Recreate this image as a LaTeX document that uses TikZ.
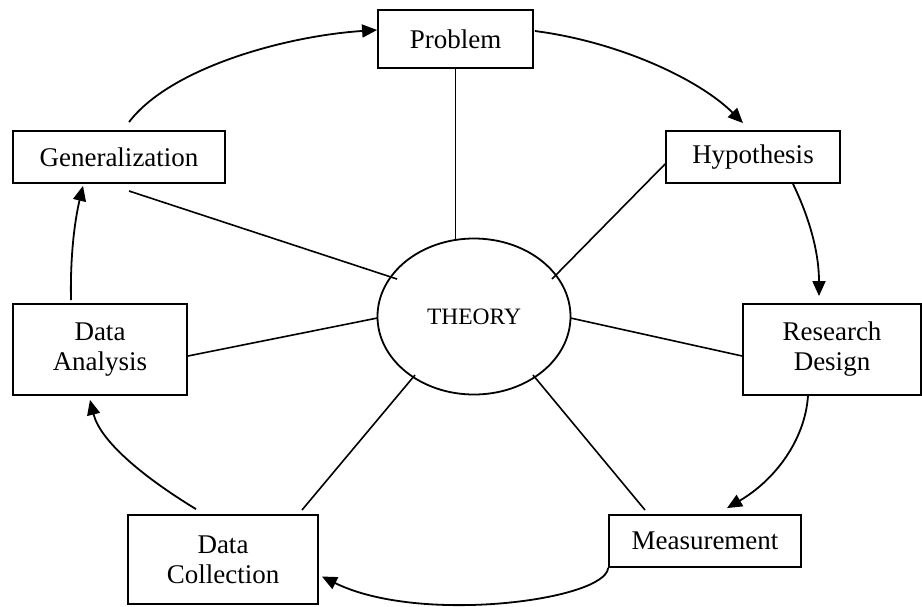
\documentclass[tikz,border=0pt]{standalone}
\usepackage{fontspec}
\setmainfont{Liberation Serif}
\usetikzlibrary{arrows.meta,shapes.geometric,calc}
\begin{document}
\begin{tikzpicture}[x=1pt,y=-1pt,
  box/.style={draw,line width=1.8pt,rectangle,inner sep=0pt,align=center,font=\fontsize{27}{30}\selectfont},
  spoke/.style={line width=1.6pt},
  flow/.style={line width=1.8pt,-{Triangle[length=15pt,width=13pt]}}]
\useasboundingbox (0,0) rectangle (922,606);
% boxes
\node[box,minimum width=155pt,minimum height=58pt] (prob) at (455.5,39) {Problem};
\node[box,minimum width=174pt,minimum height=52pt] (hyp) at (753,157) {Hypothesis};
\node[box,minimum width=212pt,minimum height=52pt] (gen) at (119,157) {Generalization};
\node[box,minimum width=178pt,minimum height=91pt] (rd) at (832,349.5) {Research\\Design};
\node[box,minimum width=174pt,minimum height=91pt] (da) at (100,349.5) {Data\\Analysis};
\node[box,minimum width=190pt,minimum height=89pt] (dc) at (223,559.5) {Data\\Collection};
\node[box,minimum width=192pt,minimum height=52pt] (meas) at (705,541) {Measurement};
\node[draw,ellipse,line width=1.8pt,minimum width=193pt,minimum height=156pt,inner sep=0pt,
  font=\fontsize{23.5}{28}\selectfont] (th) at (474,316.5) {THEORY};
% spoke end points
\coordinate (sg1) at (129,191);  \coordinate (sg2) at (397,279);
\coordinate (sh1) at ($(hyp.west)+(0,7)$); \coordinate (sh2) at (552,279);
\coordinate (sr1) at ($(rd.west)+(0,6.5)$); \coordinate (sr2) at (570.5,318);
\coordinate (sa1) at ($(da.east)+(0,6.5)$); \coordinate (sa2) at (377.5,318);
\coordinate (sc1) at (302,510);  \coordinate (sc2) at (415,375);
\coordinate (sm1) at (645,510);  \coordinate (sm2) at (533,375);
\coordinate (sp2) at (455.5,240);
% spokes
\draw[spoke] (prob.south) -- (sp2);
\draw[spoke] (sg1) -- (sg2);
\draw[spoke] (sh1) -- (sh2);
\draw[spoke] (sr1) -- (sr2);
\draw[spoke] (sa1) -- (sa2);
\draw[spoke] (sc1) -- (sc2);
\draw[spoke] (sm1) -- (sm2);
% flow arrow end points
\coordinate (a1s) at ($(gen.north)+(10,-8)$);  \coordinate (a1e) at ($(prob.west)+(0,-9)$);
\coordinate (a2s) at ($(prob.east)+(1,-8)$);   \coordinate (a2e) at ($(hyp.north)+(-10,-7)$);
\coordinate (a3s) at ($(hyp.south)+(40,0)$);   \coordinate (a3e) at ($(rd.north)+(-13,-7)$);
\coordinate (a4s) at ($(rd.south)+(-24,0)$);   \coordinate (a4e) at ($(meas.north)+(22,-6)$);
\coordinate (a5s) at (meas.south west);        \coordinate (a5e) at ($(dc.east)+(3,17)$);
\coordinate (a6s) at ($(dc.north)+(-27,-5)$);  \coordinate (a6e) at ($(da.south)+(-10,4)$);
\coordinate (a7s) at ($(da.north)+(-29,-3)$);  \coordinate (a7e) at ($(gen.south)+(-36,2)$);
% flow arrows
\draw[flow] (a1s) .. controls (170,68) and (285,36) .. (a1e);
\draw[flow] (a2s) .. controls (620,42) and (700,80) .. (a2e);
\draw[flow] (a3s) .. controls (808,215) and (819,250) .. (a3e);
\draw[flow] (a4s) .. controls (805,440) and (775,480) .. (a4e);
\draw[flow] (a5s) .. controls (606,600) and (420,625) .. (a5e);
\draw[flow] (a6s) .. controls (140,475) and (100,440) .. (a6e);
\draw[flow] (a7s) .. controls (70,250) and (76,215) .. (a7e);
\end{tikzpicture}
\end{document}
